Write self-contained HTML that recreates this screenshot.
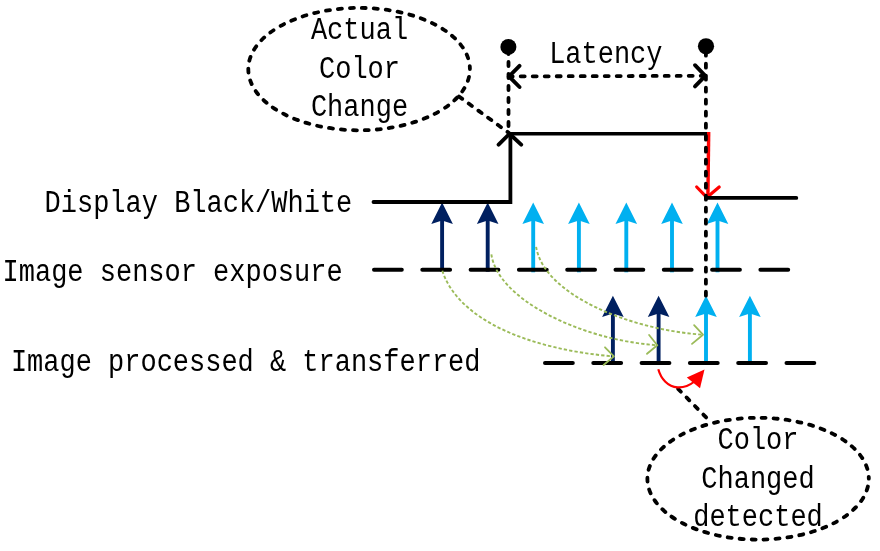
<!DOCTYPE html>
<html lang="en">
<head>
<meta charset="utf-8">
<title>Latency measurement diagram</title>
<style>
html,body{margin:0;padding:0;background:#fff;}
body{width:880px;height:551px;overflow:hidden;}
svg{display:block;will-change:transform;}
text{font-family:"Liberation Mono","DejaVu Sans Mono",monospace;font-size:30.6px;fill:#000;}
.dot{fill:none;stroke:#000;stroke-width:3.8;stroke-linecap:round;stroke-dasharray:4 8;}
.sol{fill:none;stroke:#000;stroke-width:3.8;stroke-linecap:round;stroke-linejoin:miter;}
.dash{fill:none;stroke:#000;stroke-width:4;stroke-linecap:round;stroke-dasharray:27.8 20.5;}
.open{fill:none;stroke:#000;stroke-width:3.9;stroke-linecap:round;stroke-linejoin:round;}
.grn{fill:none;stroke:#9bbb59;stroke-width:1.9;stroke-dasharray:3.3 2.1;}
.grnh{fill:none;stroke:#9bbb59;stroke-width:1.8;stroke-linecap:round;stroke-linejoin:round;}
.navy{stroke:#002060;fill:#002060;}
.blue{stroke:#00b0f0;fill:#00b0f0;}
.shaft{stroke-width:3.9;fill:none;}
.head{stroke:none;}
</style>
</head>
<body>
<svg width="880" height="551" viewBox="0 0 880 551">
<rect width="880" height="551" fill="#fff"/>

<!-- ellipses -->
<ellipse class="dot" cx="359.1" cy="69.1" rx="110.8" ry="61.2" stroke-dashoffset="4"/>
<ellipse class="dot" cx="758.1" cy="478.7" rx="110.7" ry="60.9" stroke-dashoffset="4"/>
<line class="dot" x1="459" y1="96.5" x2="509" y2="133"/>
<line class="dot" x1="678.1" y1="388.9" x2="707.7" y2="419"/>

<!-- row 2 arrows -->
<g class="navy">
  <g transform="translate(612.9 295.7)"><line class="shaft" x1="0" y1="14" x2="0" y2="67.5"/><path class="head" d="M0 0 L10.8 21.4 L0 17.9 L-10.8 21.4 Z"/></g>
  <g transform="translate(658.6 295.7)"><line class="shaft" x1="0" y1="14" x2="0" y2="67.5"/><path class="head" d="M0 0 L10.8 21.4 L0 17.9 L-10.8 21.4 Z"/></g>
</g>
<g class="blue">
  <g transform="translate(706 295.7)"><line class="shaft" x1="0" y1="14" x2="0" y2="67.5"/><path class="head" d="M0 0 L10.8 21.4 L0 17.9 L-10.8 21.4 Z"/></g>
  <g transform="translate(749.9 295.7)"><line class="shaft" x1="0" y1="14" x2="0" y2="67.5"/><path class="head" d="M0 0 L10.8 21.4 L0 17.9 L-10.8 21.4 Z"/></g>
</g>

<!-- row 1 arrows -->
<g class="navy">
  <g transform="translate(442.1 202.5)"><line class="shaft" x1="0" y1="14" x2="0" y2="69.2"/><path class="head" d="M0 0 L10.8 21.4 L0 17.9 L-10.8 21.4 Z"/></g>
  <g transform="translate(487.7 202.5)"><line class="shaft" x1="0" y1="14" x2="0" y2="69.2"/><path class="head" d="M0 0 L10.8 21.4 L0 17.9 L-10.8 21.4 Z"/></g>
</g>
<g class="blue">
  <g transform="translate(533.2 202.5)"><line class="shaft" x1="0" y1="14" x2="0" y2="69.8"/><path class="head" d="M0 0 L10.8 21.4 L0 17.9 L-10.8 21.4 Z"/></g>
  <g transform="translate(578.9 202.5)"><line class="shaft" x1="0" y1="14" x2="0" y2="69.8"/><path class="head" d="M0 0 L10.8 21.4 L0 17.9 L-10.8 21.4 Z"/></g>
  <g transform="translate(626.3 202.5)"><line class="shaft" x1="0" y1="14" x2="0" y2="69.8"/><path class="head" d="M0 0 L10.8 21.4 L0 17.9 L-10.8 21.4 Z"/></g>
  <g transform="translate(672 202.5)"><line class="shaft" x1="0" y1="14" x2="0" y2="69.8"/><path class="head" d="M0 0 L10.8 21.4 L0 17.9 L-10.8 21.4 Z"/></g>
  <g transform="translate(717.5 202.5)"><line class="shaft" x1="0" y1="14" x2="0" y2="69.8"/><path class="head" d="M0 0 L10.8 21.4 L0 17.9 L-10.8 21.4 Z"/></g>
</g>
<!-- dashed baselines -->
<line class="dash" x1="374" y1="269.7" x2="789.5" y2="269.7"/>
<line class="dash" x1="545" y1="363" x2="815" y2="363"/>

<!-- green curves -->
<path class="grn" d="M442.3 270.7 C458.3 319.9 528.7 349.2 613.4 356.4"/>
<path class="grnh" d="M605 347.3 L613.9 356.4 L603.6 365"/>
<path class="grn" d="M491.4 254.3 C497.2 298.6 579.7 339.8 656.8 345.2"/>
<path class="grnh" d="M649.1 335 L657.3 345.2 L647 353.8"/>
<path class="grn" d="M536.1 246.8 C543.9 294.8 629.5 329.6 702.5 334.7"/>
<path class="grnh" d="M694.1 325.2 L703 334.7 L692 343.9"/>

<!-- waveform -->
<path class="sol" d="M373.5 202 H510.4 V134"/>
<path class="sol" style="stroke-width:3.4;stroke-linecap:butt" d="M508.6 133.7 H709.8"/>
<!-- red -->
<path d="M708.7 132 L707.9 197" fill="none" stroke="#ff0000" stroke-width="3.4"/>
<path d="M696.7 187 L706.8 197.4 L719.2 187" fill="none" stroke="#ff0000" stroke-width="3.2" stroke-linecap="round" stroke-linejoin="round"/>
<path d="M658.3 369.2 C661 379 668 386.6 677.5 387.4 C684 387.9 690 385 694.5 381.5" fill="none" stroke="#ff0000" stroke-width="2.2"/>
<path d="M704.5 369.5 L686.8 377.6 L700 388.3 Z" fill="#ff0000"/>
<path class="sol" d="M706 197.9 H796.3"/>
<!-- vertical dotted -->
<line class="dot" x1="508.5" y1="50" x2="508.5" y2="131"/>
<line class="dot" x1="705.9" y1="51.7" x2="705.9" y2="296"/>
<circle cx="508.4" cy="46.9" r="8"/>
<circle cx="706" cy="46.3" r="8.1"/>
<path class="open" d="M498.6 144.6 L509.5 133.8 L521.2 144.6"/>
<!-- latency arrow -->
<line class="dot" x1="508.7" y1="76.4" x2="703" y2="75.8"/>
<path class="open" d="M519.5 65.8 L509 76.4 L519.5 87"/>
<path class="open" d="M695 65.2 L705.3 75.8 L695 86.4"/>

<!-- text -->
<text transform="translate(359.5 39.3) scale(0.882 1)" text-anchor="middle">Actual</text>
<text transform="translate(359.5 77.7) scale(0.882 1)" text-anchor="middle">Color</text>
<text transform="translate(359.5 115.8) scale(0.882 1)" text-anchor="middle">Change</text>
<text transform="translate(605.8 63) scale(0.882 1)" text-anchor="middle">Latency</text>
<text transform="translate(44.6 211.7) scale(0.882 1)">Display Black/White</text>
<text transform="translate(2.6 281.1) scale(0.882 1)">Image sensor exposure</text>
<text transform="translate(10.9 371.4) scale(0.882 1)">Image processed &amp; transferred</text>
<text transform="translate(758 449) scale(0.882 1)" text-anchor="middle">Color</text>
<text transform="translate(758 487.7) scale(0.882 1)" text-anchor="middle">Changed</text>
<text transform="translate(758 525.7) scale(0.882 1)" text-anchor="middle">detected</text>
</svg>
</body>
</html>
